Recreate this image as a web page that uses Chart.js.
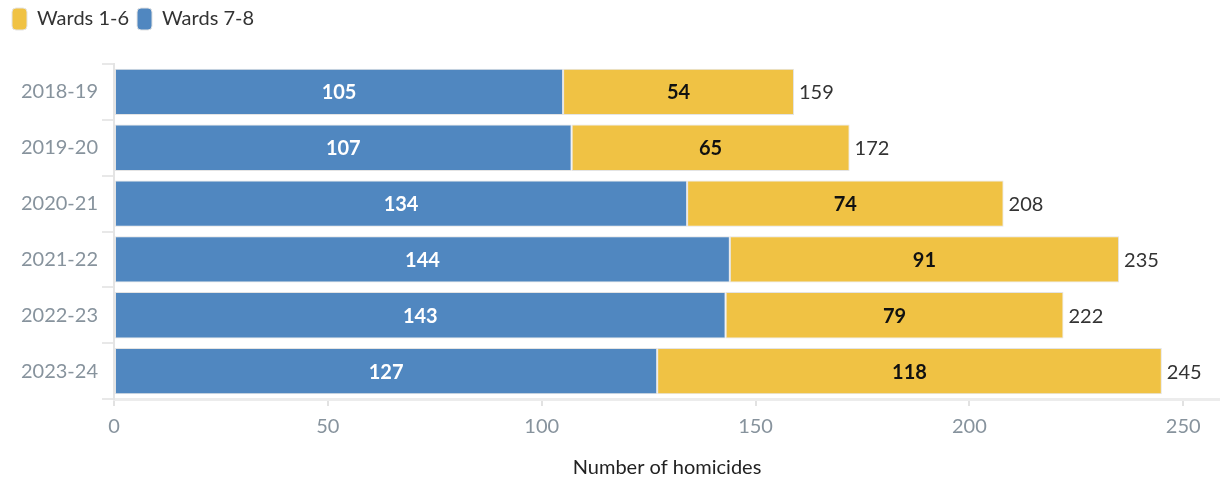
<!DOCTYPE html>
<html>
<head>
<meta charset="utf-8">
<script src="https://cdn.jsdelivr.net/npm/chart.js@4/dist/chart.umd.min.js"></script>
<style>
  html, body { margin: 0; padding: 0; background: #fff; }
  #wrap { width: 1220px; height: 480px; position: relative; }
</style>
</head>
<body>
<div id="wrap"><canvas id="homicidesChart"></canvas></div>
<script>
const seasons = ['2018-19', '2019-20', '2020-21', '2021-22', '2022-23', '2023-24'];
const wards78 = [105, 107, 134, 144, 143, 127];
const wards16 = [54, 65, 74, 91, 79, 118];
const xTicks = [0, 50, 100, 150, 200, 250];

const BLUE = '#5087c0';
const YELLOW = '#f0c244';
const FONT = 'Lato, "Open Sans", sans-serif';

// Writes each segment's value inside it and the row total after the end of the bar
const barLabels = {
    id: 'barLabels',
    afterDatasetsDraw(chart) {
        const ctx = chart.ctx;
        ctx.save();
        ctx.textBaseline = 'middle';
        chart.data.datasets.forEach((ds, i) => {
            const meta = chart.getDatasetMeta(i);
            meta.data.forEach((bar, j) => {
                const left = Math.min(bar.x, bar.base);
                const right = Math.max(bar.x, bar.base);
                ctx.font = 'bold 20px ' + FONT;
                ctx.textAlign = 'center';
                ctx.fillStyle = i === 0 ? '#ffffff' : '#111111';
                ctx.fillText(ds.data[j], (left + right) / 2, bar.y + 1);
                if (i === chart.data.datasets.length - 1) {
                    const total = wards78[j] + wards16[j];
                    ctx.font = '20px ' + FONT;
                    ctx.textAlign = 'left';
                    ctx.fillStyle = '#333333';
                    ctx.fillText(total, right + 5, bar.y + 1);
                }
            });
        });
        ctx.restore();
    }
};

// Leaves some room between the legend and the bars
const legendGap = {
    id: 'legendGap',
    beforeInit(chart) {
        const fit = chart.legend.fit;
        chart.legend.fit = function () {
            fit.call(this);
            this.height += 24;
        };
    }
};

new Chart(document.getElementById('homicidesChart').getContext('2d'), {
    type: 'bar',
    data: {
        labels: seasons,
        datasets: [
            {
                label: 'Wards 7-8',
                data: wards78,
                backgroundColor: BLUE,
                borderColor: '#e4e4e4',
                borderWidth: 1,
                borderSkipped: false
            },
            {
                label: 'Wards 1-6',
                data: wards16,
                backgroundColor: YELLOW,
                borderColor: '#e4e4e4',
                borderWidth: 1,
                borderSkipped: false
            }
        ]
    },
    options: {
        indexAxis: 'y',
        responsive: true,
        maintainAspectRatio: false,
        animation: false,
        layout: { padding: { top: 0, left: 4, right: 0, bottom: 0 } },
        datasets: {
            bar: { categoryPercentage: 1, barPercentage: 0.83 }
        },
        plugins: {
            tooltip: { enabled: false },
            legend: {
                position: 'top',
                align: 'start',
                reverse: true,
                labels: {
                    boxWidth: 15,
                    boxHeight: 22,
                    useBorderRadius: true,
                    borderRadius: 4,
                    padding: 8,
                    color: '#333',
                    font: { family: FONT, size: 20 }
                }
            }
        },
        scales: {
            x: {
                stacked: true,
                min: 0,
                max: 258.6,
                afterBuildTicks: scale => {
                    scale.ticks = xTicks.map(v => ({ value: v }));
                },
                grid: {
                    drawOnChartArea: false,
                    color: '#e2e2e2',
                    tickLength: 7,
                    lineWidth: 2
                },
                border: { color: '#ececec', width: 3 },
                ticks: {
                    color: '#87939d',
                    padding: 9,
                    font: { family: FONT, size: 20 }
                },
                title: {
                    display: true,
                    text: 'Number of homicides',
                    color: '#222',
                    padding: { top: 8, bottom: 0 },
                    font: { family: FONT, size: 20 }
                }
            },
            y: {
                stacked: true,
                afterFit: scale => { scale.width = 110; },
                grid: {
                    drawOnChartArea: false,
                    color: '#e8e8e8',
                    tickLength: 12,
                    lineWidth: 2
                },
                border: { color: '#e4e4e4', width: 2 },
                ticks: {
                    color: '#87939d',
                    padding: 4,
                    font: { family: FONT, size: 20 }
                }
            }
        }
    },
    plugins: [barLabels, legendGap]
});
</script>
</body>
</html>
